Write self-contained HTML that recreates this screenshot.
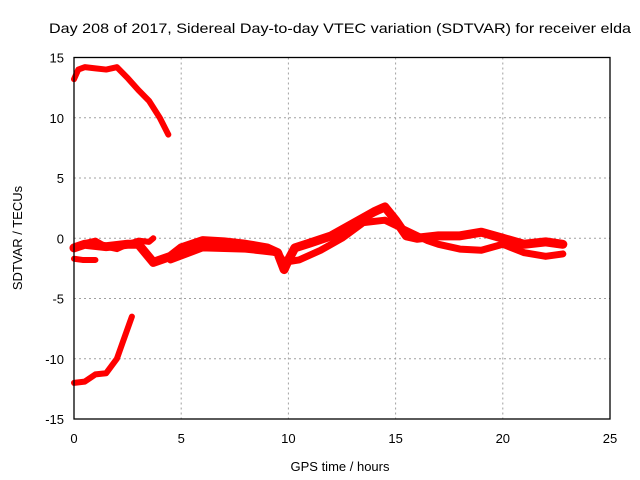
<!DOCTYPE html>
<html><head><meta charset="utf-8"><style>
body{margin:0;background:#fff;width:640px;height:480px;overflow:hidden}
svg{display:block;font-family:"Liberation Sans",sans-serif}
</style></head><body>
<svg id="chart" width="640" height="480">
<text x="340" y="33" font-size="14" text-anchor="middle" textLength="582" lengthAdjust="spacingAndGlyphs">Day 208 of 2017, Sidereal Day-to-day VTEC variation (SDTVAR) for receiver elda</text>
<text transform="translate(22,238) rotate(-90)" font-size="13" text-anchor="middle">SDTVAR / TECUs</text>
<text x="340" y="471" font-size="13" text-anchor="middle">GPS time / hours</text>
<g id="grid"></g><g id="series"></g><g id="axes"></g>
</svg>
<script>
const xTicks=[0,5,10,15,20,25];
const yTicks=[-15,-10,-5,0,5,10,15];
const topX=[0,0.2,0.5,1,1.5,2,2.5,3,3.5,4,4.4];
const topY=[13.2,14,14.2,14.1,14,14.2,13.3,12.3,11.4,10,8.6];
const botX=[0,0.5,1,1.5,2,2.3,2.7];
const botY=[-12,-11.9,-11.3,-11.2,-10,-8.5,-6.5];
const upX=[0,0.5,1,1.5,2,2.5,3,3.5,3.7];
const upY=[-0.8,-0.4,-0.2,-0.7,-0.9,-0.5,-0.2,-0.3,0];
const shortX=[0,0.4,0.8,1];
const shortY=[-1.7,-1.8,-1.8,-1.8];
const midX=[0,0.5,1.5,2.5,3,3.7,4.5,5,6,7,8,9,9.5,9.8,10,10.3,11,12,13,14,14.5,15,15.5,16,17,18,19,20,21,22,22.8];
const midY=[-0.8,-0.5,-0.7,-0.5,-0.5,-2,-1.5,-0.8,-0.2,-0.3,-0.5,-0.8,-1.2,-2.6,-1.8,-0.8,-0.4,0.2,1.2,2.2,2.6,1.5,0.2,0,0.2,0.2,0.5,0,-0.5,-0.3,-0.5];
const lowX=[4.5,6,8,9.5,9.8,10.5,11.5,12.5,13.5,14.5,16.5,17,18,19,20,21,22,22.8];
const lowY=[-1.8,-0.8,-0.9,-1.2,-2,-1.8,-1,0,1.3,1.5,-0.2,-0.5,-0.9,-1,-0.5,-1.2,-1.5,-1.3];
const L=74,R=610,T=57.5,B=419;
const sx=v=>L+(v-0)/25*(R-L);
const sy=v=>B-(v+15)/30*(B-T);
const NS='http://www.w3.org/2000/svg';
const mk=(t,a,p)=>{const e=document.createElementNS(NS,t);for(const k in a)e.setAttribute(k,a[k]);p.appendChild(e);return e;};
const grid=document.getElementById('grid'),axes=document.getElementById('axes'),ser=document.getElementById('series');
xTicks.forEach(v=>{
 if(v>0&&v<25){const g=mk('line',{x1:sx(v),x2:sx(v),y1:T,y2:B,stroke:'#a0a0a0','stroke-dasharray':'2,3'},grid);
 
 }
 const t=mk('text',{x:sx(v),y:B+24,'font-size':13,'text-anchor':'middle'},axes);t.textContent=v;
 
 
});
yTicks.forEach(v=>{
 if(v>-15&&v<15){const g=mk('line',{x1:L,x2:R,y1:sy(v),y2:sy(v),stroke:'#a0a0a0','stroke-dasharray':'2,3'},grid);
 
 }
 const t=mk('text',{x:L-10,y:sy(v)+5,'font-size':13,'text-anchor':'end'},axes);t.textContent=v;
 
 
});
const fr=mk('rect',{x:L,y:T,width:R-L,height:B-T,fill:'none',stroke:'#000','stroke-width':1.3},axes);


[[topX,topY,'series-top',6],[botX,botY,'series-bottom',6],[upX,upY,'series-upper',6],[shortX,shortY,'series-short',6],[midX,midY,'series-middle',9],[lowX,lowY,'series-lower',7]].forEach(([xs,ys,n,w])=>{
 const p=mk('polyline',{points:xs.map((x,i)=>sx(x)+','+sy(ys[i])).join(' '),fill:'none',stroke:'#ff0000','stroke-width':w,'stroke-linejoin':'round','stroke-linecap':'round'},ser);
 
 
});
</script>
</body></html>
